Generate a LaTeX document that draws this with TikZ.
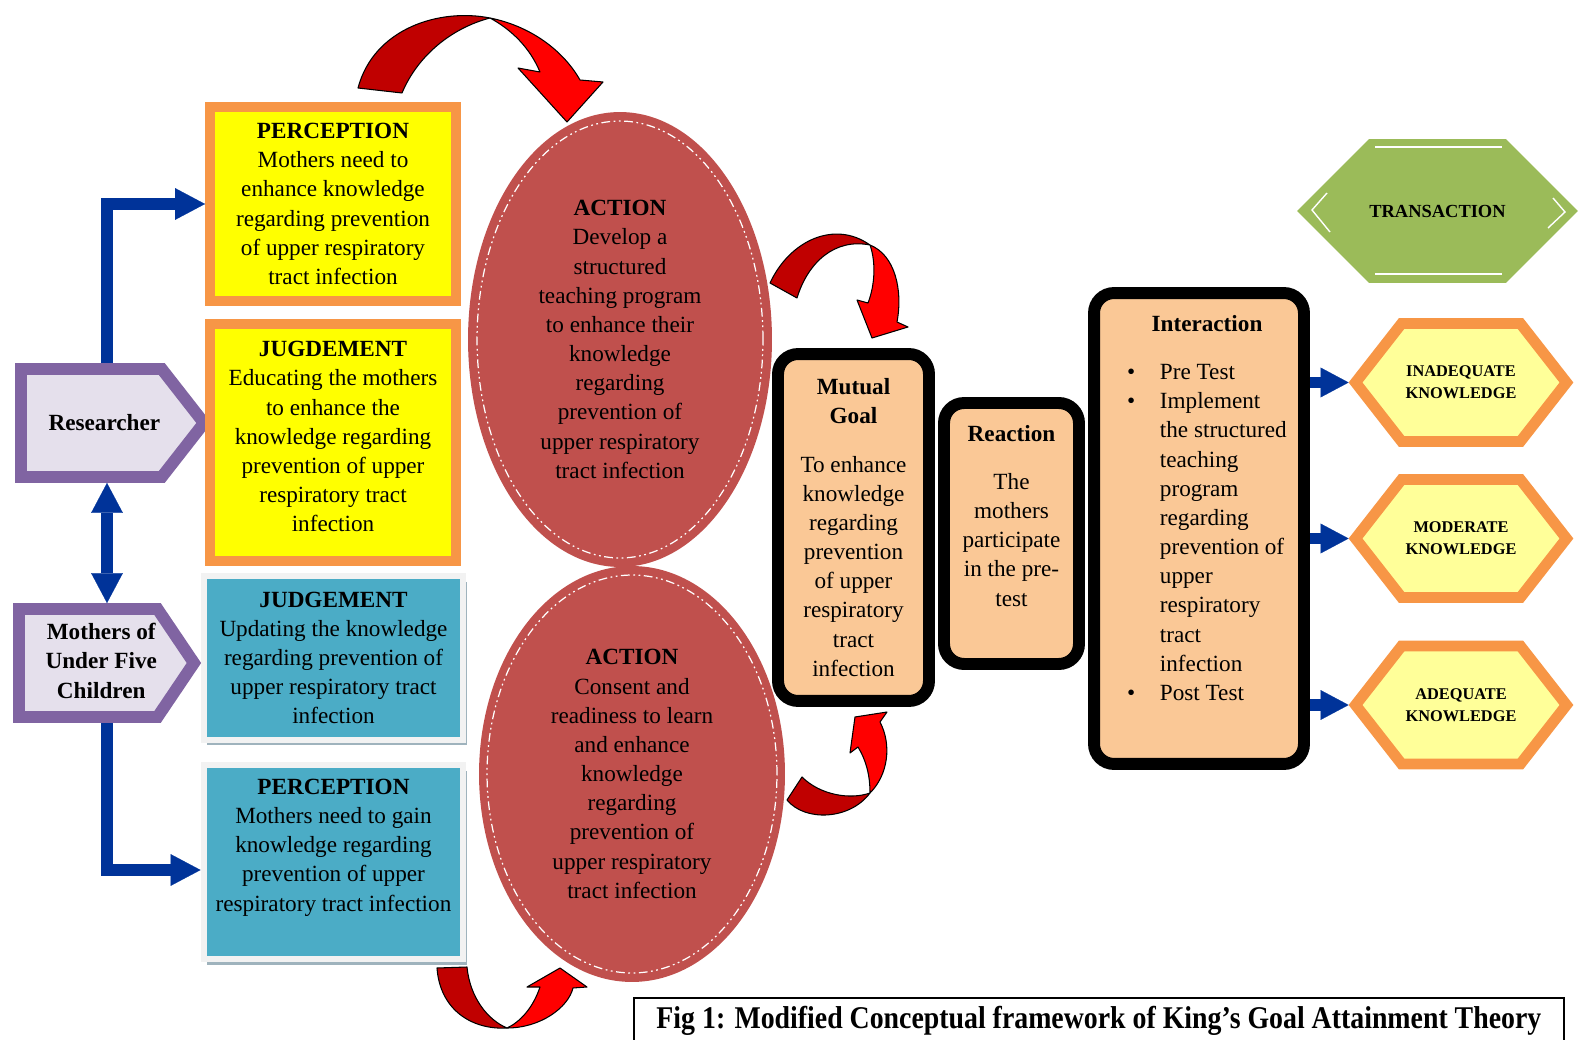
\documentclass[tikz,border=0pt]{standalone}
\usepackage{fontspec}
\setmainfont{Liberation Serif}
\usetikzlibrary{shapes.geometric,shapes.symbols,arrows.meta,shadows}

\definecolor{percorange}{HTML}{F79646}
\definecolor{percyellow}{HTML}{FFFF00}
\definecolor{judgeblue}{HTML}{4BACC6}
\definecolor{framegray}{HTML}{F2F2F2}
\definecolor{shadegray}{HTML}{9FB3BD}
\definecolor{actionred}{HTML}{C0504D}
\definecolor{personpurple}{HTML}{8064A2}
\definecolor{personfill}{HTML}{E5E0EC}
\definecolor{goalpeach}{HTML}{FAC896}
\definecolor{transgreen}{HTML}{9BBB59}
\definecolor{levelyellow}{HTML}{FFFF99}
\definecolor{linkblue}{HTML}{003399}
\definecolor{backred}{HTML}{C00000}
\definecolor{frontred}{HTML}{FF0000}

\tikzset{
  every node/.style={font=\fontsize{13.2}{16.6}\selectfont, align=center, inner sep=0pt},
  yellowbox/.style={rectangle, draw=percorange, fill=percyellow, line width=5.7pt, minimum width=4.92cm},
  bluebox/.style={rectangle, draw=framegray, fill=judgeblue, line width=3.4pt, minimum width=5.2cm,
    drop shadow={shadow xshift=2pt, shadow yshift=-3.2pt, fill=shadegray, opacity=1}},
  actionell/.style={ellipse, fill=actionred},
  ellline/.style={draw=white, line width=0.7pt, dash pattern=on 5pt off 2pt on 1pt off 2pt on 1pt off 2pt},
  personbox/.style={signal, signal to=east, draw=personpurple, fill=personfill, line width=6.8pt,
    minimum height=2.16cm, font=\fontsize{13.2}{16.6}\selectfont\bfseries},
  goalbox/.style={rectangle, rounded corners=0.4cm, draw=black, fill=goalpeach, line width=6.8pt},
  levelhex/.style={signal, signal to=west and east, signal pointer angle=104, draw=percorange,
    fill=levelyellow, line width=6.2pt, minimum width=4.22cm, minimum height=2.36cm,
    font=\fontsize{9.3}{12.5}\selectfont\bfseries},
  linkarrow/.style={draw=linkblue, line width=6.5pt, -{Triangle[length=17pt,width=18pt,line width=0.1pt]}},
  outarrow/.style={draw=linkblue, line width=6.8pt, -{Triangle[length=16pt,width=17pt,line width=0.1pt]}},
  backpart/.style={fill=backred, draw=black, line width=0.6pt, line join=round},
  frontpart/.style={fill=frontred, draw=black, line width=0.6pt, line join=round},
}

\begin{document}
\begin{tikzpicture}[x=0.02cm, y=-0.02cm]
\useasboundingbox (0,0) rectangle (1579,1040);

% persons
\node[personbox, signal pointer angle=104, minimum width=3.66cm, anchor=west] (researcher) at (15,423) {\hspace*{0.52cm}Researcher};
\node[personbox, signal pointer angle=112, minimum width=3.5cm, anchor=west] (mothers) at (13,663) {\hspace*{0.52cm}\begin{tabular}{@{}c@{}}Mothers of\\Under Five\\Children\end{tabular}};
\coordinate (spine) at (107,0);

% perception and judgement
\node[yellowbox, minimum height=3.88cm] (percep1) at (333,204) {\textbf{PERCEPTION}\\Mothers need to\\enhance knowledge\\regarding prevention\\of upper respiratory\\tract infection};
\node[yellowbox, minimum height=4.74cm] (judge1) at (333,442.5) {\textbf{JUGDEMENT}\\Educating the mothers\\to enhance the\\knowledge regarding\\prevention of upper\\respiratory tract\\infection\\[-9.8pt]\mbox{}};
\node[bluebox, minimum height=3.27cm] (judge2) at (333.5,658) {\textbf{JUDGEMENT}\\Updating the knowledge\\regarding prevention of\\upper respiratory tract\\infection};
\node[bluebox, minimum height=3.88cm] (percep2) at (333.5,862) {\textbf{PERCEPTION}\\Mothers need to gain\\knowledge regarding\\prevention of upper\\respiratory tract infection\\[2.7pt]\mbox{}};

% actions
\node[actionell, minimum width=6.08cm, minimum height=9.1cm] (action1) at (620,339.5) {\textbf{ACTION}\\Develop a\\structured\\teaching program\\to enhance their\\knowledge\\regarding\\prevention of\\upper respiratory\\tract infection};
\draw[ellline] (action1.center) ellipse [x radius=2.86cm, y radius=4.37cm];
\node[actionell, minimum width=6.12cm, minimum height=8.32cm] (action2) at (632,774) {\textbf{ACTION}\\Consent and\\readiness to learn\\and enhance\\knowledge\\regarding\\prevention of\\upper respiratory\\tract infection};
\draw[ellline] (action2.center) ellipse [x radius=2.9cm, y radius=3.98cm];

% goal, reaction, interaction
\node[goalbox, minimum width=3.02cm, minimum height=6.94cm] (goal) at (853.5,527.5) {\textbf{Mutual}\\\textbf{Goal}\\[10.8pt]To enhance\\knowledge\\regarding\\prevention\\of upper\\respiratory\\tract\\infection};
\node[goalbox, minimum width=2.7cm, minimum height=5.22cm] (reaction) at (1011.5,533.5) {\textbf{Reaction}\\[10.8pt]The\\mothers\\participate\\in the pre-\\test\\[3.8pt]\mbox{}};
\node[goalbox, minimum width=4.2cm, minimum height=9.42cm] (interaction) at (1199,528.5) {%
  \hspace*{0.32cm}\begin{tabular}{@{}c@{\hspace{14pt}}l@{}}
  \multicolumn{2}{c}{\textbf{Interaction}}\\[10.8pt]
  \textbullet & Pre Test\\
  \textbullet & Implement\\
   & the structured\\
   & teaching\\
   & program\\
   & regarding\\
   & prevention of\\
   & upper\\
   & respiratory\\
   & tract\\
   & infection\\
  \textbullet & Post Test\\[21pt]
  \end{tabular}};

% transaction and outcomes
\node[signal, signal to=west and east, signal pointer angle=90, fill=transgreen, minimum width=5.62cm, minimum height=2.88cm, font=\fontsize{10.5}{12}\selectfont\bfseries] (transaction) at (1437.5,211) {TRANSACTION};
\draw[white, line width=0.8pt] (1375,147) -- (1502,147) (1375,274) -- (1502,274);
\draw[white, line width=0.8pt] (1327,193) -- (1312,210) -- (1330,232) (1553,198) -- (1565,212) -- (1548,228);
\node[levelhex] (inadequate) at (1461,382.5) {INADEQUATE\\KNOWLEDGE};
\node[levelhex] (moderate) at (1461,538.5) {MODERATE\\KNOWLEDGE};
\node[levelhex] (adequate) at (1461,705) {ADEQUATE\\KNOWLEDGE};

% blue links
\draw[linkarrow] (researcher.north -| spine) |- (percep1.west);
\draw[linkarrow, {Triangle[length=17pt,width=18pt,line width=0.1pt]}-{Triangle[length=17pt,width=18pt,line width=0.1pt]}] (researcher.south -| spine) -- (mothers.north -| spine);
\draw[linkarrow] (mothers.south -| spine) |- ([yshift=-0.16cm]percep2.west);
\draw[outarrow] (interaction.east |- inadequate.west) -- (inadequate.west);
\draw[outarrow] (interaction.east |- moderate.west) -- (moderate.west);
\draw[outarrow] (interaction.east |- adequate.west) -- (adequate.west);

% red curved arrows
\draw[backpart] (358,88) .. controls (374,28) and (440,8) .. (490,18) .. controls (452,28) and (418,55) .. (402,93) -- cycle;
\draw[frontpart] (490,18) .. controls (530,26) and (563,50) .. (580,80) -- (603,82) -- (567,122) -- (518,68) -- (540,72) .. controls (530,48) and (512,30) .. (490,18) -- cycle;
\draw[backpart] (770,283) .. controls (790,240) and (835,220) .. (870,245) .. controls (835,238) and (808,262) .. (797,298) -- cycle;
\draw[frontpart] (870,245) .. controls (895,255) and (903,290) .. (897,322) -- (908,327) -- (872,338) -- (857,300) -- (868,303) .. controls (875,285) and (876,262) .. (870,245) -- cycle;
\draw[backpart] (787,800) .. controls (805,822) and (850,820) .. (870,793) .. controls (850,800) and (820,795) .. (802,777) -- cycle;
\draw[frontpart] (870,793) .. controls (888,775) and (892,745) .. (880,722) -- (887,712) -- (855,717) -- (850,753) -- (858,747) .. controls (866,760) and (870,775) .. (870,793) -- cycle;
\draw[backpart] (437,968) .. controls (440,1010) and (472,1030) .. (507,1028) .. controls (488,1020) and (470,998) .. (467,967) -- cycle;
\draw[frontpart] (507,1028) .. controls (540,1028) and (568,1008) .. (573,988) -- (587,987) -- (560,968) -- (527,987) -- (540,987) .. controls (533,1008) and (520,1022) .. (507,1028) -- cycle;

% caption
\node[draw, line width=1.1pt, anchor=north west, minimum width=18.6cm, minimum height=0.92cm] (caption) at (633,997) {\scalebox{0.88}[1]{\fontsize{18}{20}\selectfont\bfseries Fig 1: Modified Conceptual framework of King’s Goal Attainment Theory}};
\end{tikzpicture}
\end{document}
